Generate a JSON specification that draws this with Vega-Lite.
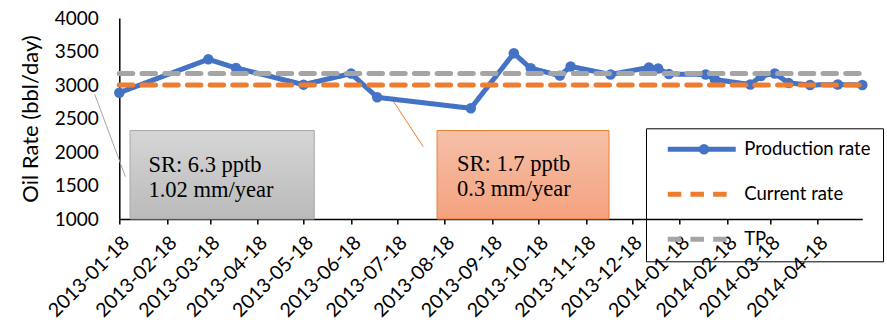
{
  "$schema": "https://vega.github.io/schema/vega-lite/v6.json",
  "width": 743,
  "height": 201,
  "autosize": "none",
  "padding": {"left": 119.3, "top": 18, "right": 24.7, "bottom": 109},
  "background": "white",
  "config": {"view": {"stroke": null}, "font": "Lato"},
  "datasets": {
    "production": [
      {"series": "Production rate", "date": "2013-01-18", "value": 2885},
      {"series": "Production rate", "date": "2013-03-17", "value": 3384},
      {"series": "Production rate", "date": "2013-04-04", "value": 3254},
      {"series": "Production rate", "date": "2013-05-18", "value": 3005},
      {"series": "Production rate", "date": "2013-06-18", "value": 3170},
      {"series": "Production rate", "date": "2013-07-05", "value": 2816},
      {"series": "Production rate", "date": "2013-09-04", "value": 2652},
      {"series": "Production rate", "date": "2013-10-02", "value": 3473},
      {"series": "Production rate", "date": "2013-10-13", "value": 3249},
      {"series": "Production rate", "date": "2013-11-01", "value": 3140},
      {"series": "Production rate", "date": "2013-11-08", "value": 3276},
      {"series": "Production rate", "date": "2013-12-04", "value": 3157},
      {"series": "Production rate", "date": "2013-12-29", "value": 3261},
      {"series": "Production rate", "date": "2014-01-04", "value": 3246},
      {"series": "Production rate", "date": "2014-01-11", "value": 3164},
      {"series": "Production rate", "date": "2014-02-04", "value": 3157},
      {"series": "Production rate", "date": "2014-02-10", "value": 3082},
      {"series": "Production rate", "date": "2014-03-05", "value": 3007},
      {"series": "Production rate", "date": "2014-03-12", "value": 3134},
      {"series": "Production rate", "date": "2014-03-21", "value": 3172},
      {"series": "Production rate", "date": "2014-03-30", "value": 3030},
      {"series": "Production rate", "date": "2014-04-13", "value": 3000},
      {"series": "Production rate", "date": "2014-05-01", "value": 3007},
      {"series": "Production rate", "date": "2014-05-17", "value": 3000}
    ],
    "reference": [
      {"series": "Current rate", "date": "2013-01-18", "value": 3000},
      {"series": "Current rate", "date": "2014-05-17", "value": 3000},
      {"series": "TP", "date": "2013-01-18", "value": 3170},
      {"series": "TP", "date": "2014-05-17", "value": 3170}
    ],
    "boxes": [
      {"box": "SR 6.3", "start": "2013-01-25", "end": "2013-05-25", "top": 2320, "bottom": 1000},
      {"box": "SR 1.7", "start": "2013-08-13", "end": "2013-12-03", "top": 2320, "bottom": 1000}
    ],
    "notes": [
      {"box": "SR 6.3", "date": "2013-02-06", "value": 1706, "label": "SR: 6.3 pptb"},
      {"box": "SR 6.3", "date": "2013-02-06", "value": 1324, "label": "1.02 mm/year"},
      {"box": "SR 1.7", "date": "2013-08-26", "value": 1720, "label": "SR: 1.7 pptb"},
      {"box": "SR 1.7", "date": "2013-08-26", "value": 1338, "label": "0.3 mm/year"}
    ],
    "leaders": [
      {"box": "SR 6.3", "date": "2013-01-02", "value": 2861},
      {"box": "SR 6.3", "date": "2013-01-22", "value": 1631},
      {"box": "SR 1.7", "date": "2013-07-15", "value": 2776},
      {"box": "SR 1.7", "date": "2013-08-04", "value": 2079}
    ]
  },
  "encoding": {
    "x": {
      "field": "date",
      "type": "temporal",
      "scale": {
        "type": "utc",
        "domain": [
          {"year": 2013, "month": 1, "date": 18, "utc": true},
          {"year": 2014, "month": 5, "date": 17, "utc": true}
        ]
      },
      "axis": {
        "title": null,
        "grid": false,
        "format": "%Y-%m-%d",
        "labelAngle": -45,
        "labelFont": "Lato",
        "labelFontSize": 19.5,
        "labelColor": "black",
        "labelPadding": 9,
        "labelOverlap": false,
        "labelFlush": false,
        "domainColor": "black",
        "domainWidth": 1.5,
        "tickColor": "black",
        "tickWidth": 1.5,
        "tickSize": 5,
        "values": [
          {"year": 2013, "month": 1, "date": 18, "utc": true},
          {"year": 2013, "month": 2, "date": 18, "utc": true},
          {"year": 2013, "month": 3, "date": 18, "utc": true},
          {"year": 2013, "month": 4, "date": 18, "utc": true},
          {"year": 2013, "month": 5, "date": 18, "utc": true},
          {"year": 2013, "month": 6, "date": 18, "utc": true},
          {"year": 2013, "month": 7, "date": 18, "utc": true},
          {"year": 2013, "month": 8, "date": 18, "utc": true},
          {"year": 2013, "month": 9, "date": 18, "utc": true},
          {"year": 2013, "month": 10, "date": 18, "utc": true},
          {"year": 2013, "month": 11, "date": 18, "utc": true},
          {"year": 2013, "month": 12, "date": 18, "utc": true},
          {"year": 2014, "month": 1, "date": 18, "utc": true},
          {"year": 2014, "month": 2, "date": 18, "utc": true},
          {"year": 2014, "month": 3, "date": 18, "utc": true},
          {"year": 2014, "month": 4, "date": 18, "utc": true}
        ]
      }
    },
    "y": {
      "field": "value",
      "type": "quantitative",
      "scale": {"domain": [1000, 4000], "nice": false, "zero": false},
      "axis": {
        "title": "Oil Rate (bbl/day)",
        "titleFont": "Lato",
        "titleFontSize": 22,
        "titleFontWeight": "normal",
        "titleColor": "black",
        "titlePadding": 12,
        "grid": false,
        "ticks": false,
        "format": "d",
        "values": [1000, 1500, 2000, 2500, 3000, 3500, 4000],
        "labelFont": "Lato",
        "labelFontSize": 19,
        "labelColor": "black",
        "labelPadding": 21,
        "domainColor": "black",
        "domainWidth": 1.5
      }
    }
  },
  "layer": [
    {
      "data": {"name": "boxes"},
      "transform": [{"filter": "datum.box === 'SR 6.3'"}],
      "mark": {
        "type": "rect",
        "stroke": "#a6a6a6",
        "strokeWidth": 1,
        "fill": {"gradient": "linear", "x1": 0, "y1": 0, "x2": 0, "y2": 1,
          "stops": [{"offset": 0, "color": "#d6d6d6"}, {"offset": 1, "color": "#bababa"}]}
      },
      "encoding": {
        "x": {"field": "start", "type": "temporal"},
        "x2": {"field": "end"},
        "y": {"field": "top", "type": "quantitative"},
        "y2": {"field": "bottom"}
      }
    },
    {
      "data": {"name": "boxes"},
      "transform": [{"filter": "datum.box === 'SR 1.7'"}],
      "mark": {
        "type": "rect",
        "stroke": "#ed7d31",
        "strokeWidth": 1,
        "fill": {"gradient": "linear", "x1": 0, "y1": 0, "x2": 0, "y2": 1,
          "stops": [{"offset": 0, "color": "#f6c0a8"}, {"offset": 1, "color": "#f4a27f"}]}
      },
      "encoding": {
        "x": {"field": "start", "type": "temporal"},
        "x2": {"field": "end"},
        "y": {"field": "top", "type": "quantitative"},
        "y2": {"field": "bottom"}
      }
    },
    {
      "data": {"name": "notes"},
      "mark": {"type": "text", "align": "left", "baseline": "alphabetic", "font": "Liberation Serif", "fontSize": 22.5, "color": "black"},
      "encoding": {
        "text": {"field": "label"}
      }
    },
    {
      "data": {"name": "leaders"},
      "transform": [{"filter": "datum.box === 'SR 6.3'"}],
      "mark": {"type": "line", "stroke": "#a6a6a6", "strokeWidth": 1},
      "encoding": {}
    },
    {
      "data": {"name": "leaders"},
      "transform": [{"filter": "datum.box === 'SR 1.7'"}],
      "mark": {"type": "line", "stroke": "#ed7d31", "strokeWidth": 1},
      "encoding": {}
    },
    {
      "data": {"name": "production"},
      "mark": {"type": "line", "strokeWidth": 5, "strokeJoin": "round", "strokeCap": "round"},
      "encoding": {
        "color": {
          "field": "series",
          "type": "nominal",
          "scale": {"domain": ["Production rate", "Current rate", "TP"], "range": ["#4472c4", "#ed7d31", "#a5a5a5"]},
          "legend": {
            "title": null,
            "orient": "none",
            "legendX": 526.7,
            "legendY": 110.3,
            "direction": "vertical",
            "strokeColor": "black",
            "padding": 11.7,
            "symbolType": "M-6.8,0H6.8",
            "symbolSize": 100,
            "symbolStrokeWidth": 5,
            "symbolOffset": 34.8,
            "labelFont": "Lato",
            "labelFontSize": 18.5,
            "labelColor": "black",
            "labelOffset": 33.2,
            "rowPadding": 24
          }
        },
        "strokeDash": {
          "field": "series",
          "type": "nominal",
          "scale": {"domain": ["Production rate", "Current rate", "TP"], "range": [[1, 0], [13.5, 9.2], [13.5, 9.2]]},
          "legend": null
        }
      }
    },
    {
      "data": {"name": "production"},
      "mark": {"type": "point", "filled": true, "size": 110, "opacity": 1},
      "encoding": {
        "fill": {
          "field": "series",
          "type": "nominal",
          "scale": {"domain": ["Production rate"], "range": ["#4472c4"]},
          "legend": {
            "title": null,
            "orient": "none",
            "legendX": 563.75,
            "legendY": 110.3,
            "direction": "vertical",
            "padding": 11.7,
            "symbolType": "circle",
            "symbolSize": 110,
            "symbolStrokeWidth": 0,
            "labelExpr": "''",
            "labelFont": "Lato",
            "labelFontSize": 18.5,
            "labelColor": "transparent",
            "labelOffset": 0,
            "rowPadding": 24
          }
        }
      }
    },
    {
      "data": {"name": "reference"},
      "mark": {"type": "line", "strokeWidth": 5, "strokeCap": "round"},
      "encoding": {
        "color": {"field": "series", "type": "nominal"},
        "strokeDash": {"field": "series", "type": "nominal", "legend": null}
      }
    }
  ]
}
